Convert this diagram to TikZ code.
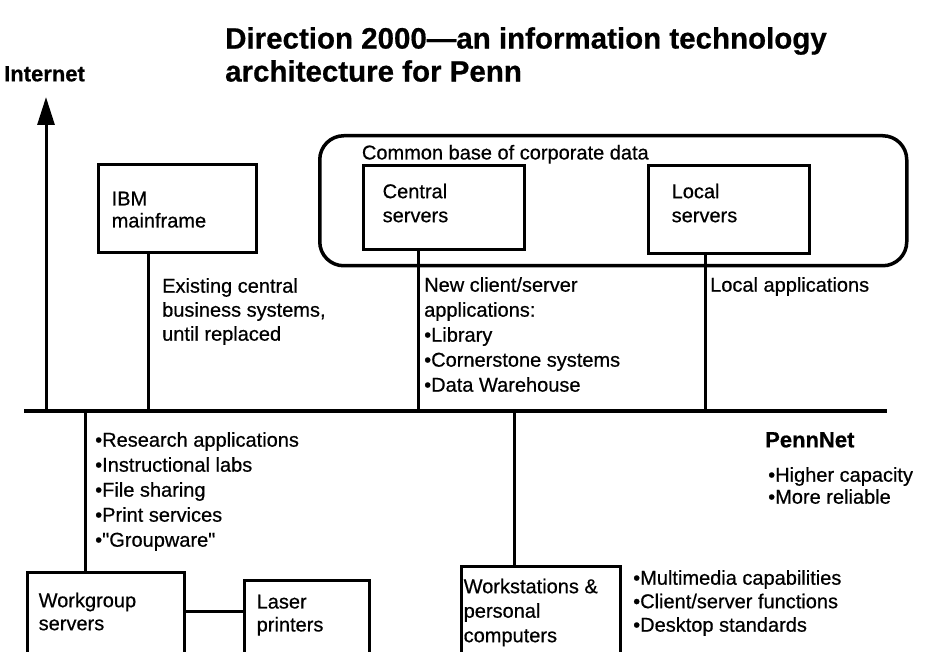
\documentclass[tikz,border=0pt]{standalone}
\usepackage{fontspec}
\setmainfont{Liberation Sans}[FakeBold = 0.6]
\usetikzlibrary{positioning,arrows.meta}

\begin{document}
\begin{tikzpicture}[
      x = 1pt, y = -1pt,
      box/.style = {
        rectangle,
        draw = black, line width = 3pt,
        anchor = north west,
        inner sep = 0pt,
      },
      store/.style = {
        rectangle,
        draw = black, line width = 3.5pt,
        rounded corners = 24pt,
        anchor = north west,
        inner sep = 0pt,
      },
      txt/.style = {
        font = \fontsize{20}{24}\selectfont,
        align = left,
        anchor = north west,
        inner sep = 0pt,
      },
      heading/.style = {
        font = \bfseries\fontsize{29.5}{33}\selectfont,
        align = left,
        anchor = north west,
        inner sep = 0pt,
      },
      tag/.style = {
        font = \bfseries\fontsize{22}{26}\selectfont,
        anchor = north west,
        inner sep = 0pt,
      },
      wire/.style = {line width = 3pt},
      bus/.style = {line width = 3.5pt},
    ]
    \useasboundingbox (0,0) rectangle (929,652);
    \clip (0,0) rectangle (929,652);

    \node[heading] (title) at (225,27) {Direction 2000—an information technology\\architecture for Penn};
    \node[tag] (inet) at (4,66) {Internet};

    % servers on top of the network
    \node[store, minimum width = 587pt, minimum height = 130pt] (corp) at (318,134) {};
    \node[box, minimum width = 158pt, minimum height = 88pt] (ibm) at (97,163) {};
    \node[box, minimum width = 161pt, minimum height = 84pt] (central) at (362,164) {};
    \node[box, minimum width = 161pt, minimum height = 88pt] (local) at (647,164) {};

    \node[txt, below right = 10.75pt and 43.75pt of corp.north west] (corptext) {Common base of corporate data};
    \node[txt, below right = 28.5pt and 14.5pt of ibm.north west, font = \fontsize{20}{22}\selectfont] (ibmtext) {IBM\\mainframe};
    \node[txt, below right = 19.5pt and 20.5pt of central.north west] (centraltext) {Central\\servers};
    \node[txt, below right = 19.5pt and 24.5pt of local.north west] (localtext) {Local\\servers};

    \node[txt] (ibmapps) at (162,278) {Existing central\\business systems,\\until replaced};
    \node[txt, font = \fontsize{20}{25}\selectfont] (newapps) at (424,277) {New client/server\\applications:\\\textbullet Library\\\textbullet Cornerstone systems\\\textbullet Data Warehouse};
    \node[txt] (localapps) at (710,277) {Local applications};

    % PennNet
    \coordinate (busw) at (24,411);
    \coordinate (buse) at (887,411);
    \draw[bus] (busw) -- (buse);
    \node[tag] (pennnet) at (765,432) {PennNet};
    \node[txt, font = \fontsize{20}{22}\selectfont] (netfacts) at (768,467) {\textbullet Higher capacity\\\textbullet More reliable};

    \coordinate (netfoot) at (46,411);
    \coordinate (nettip) at (46,97);
    \draw[wire, -{Triangle[length = 28pt, width = 17pt]}] (netfoot) -- (nettip);

    % clients below the network
    \node[box, minimum width = 157pt, minimum height = 140pt] (group) at (26,571) {};
    \node[box, minimum width = 125pt, minimum height = 130pt] (laser) at (243,579) {};
    \node[box, minimum width = 159pt, minimum height = 140pt] (work) at (460,565) {};

    \node[txt, below right = 21.5pt and 12.5pt of group.north west, font = \fontsize{20}{23}\selectfont] (grouptext) {Workgroup\\servers};
    \node[txt, below right = 15.5pt and 13.5pt of laser.north west, font = \fontsize{20}{23}\selectfont] (lasertext) {Laser\\printers};
    \node[txt, below right = 13.5pt and 3.5pt of work.north west, font = \fontsize{20}{24.5}\selectfont] (worktext) {Workstations \&\\personal\\computers};

    \node[txt, font = \fontsize{20}{25}\selectfont] (groupuses) at (95,432) {\textbullet Research applications\\\textbullet Instructional labs\\\textbullet File sharing\\\textbullet Print services\\\textbullet \textquotedbl Groupware\textquotedbl};
    \node[txt, font = \fontsize{20}{23.5}\selectfont] (workuses) at (633,570) {\textbullet Multimedia capabilities\\\textbullet Client/server functions\\\textbullet Desktop standards};

    \coordinate (ibmdrop) at (148,411);
    \coordinate (centraldrop) at (418,411);
    \coordinate (localdrop) at (705,411);
    \coordinate (groupdrop) at (85,411);
    \coordinate (workdrop) at (514,411);
    \coordinate (printlink) at (213,611);
    \draw[wire] (ibm.south -| ibmdrop) -- (ibmdrop);
    \draw[wire] (central.south -| centraldrop) -- (centraldrop);
    \draw[wire] (local.south -| localdrop) -- (localdrop);
    \draw[wire] (groupdrop) -- (group.north -| groupdrop);
    \draw[wire] (workdrop) -- (work.north -| workdrop);
    \draw[wire] (group.east |- printlink) -- (laser.west |- printlink);
  \end{tikzpicture}
\end{document}
